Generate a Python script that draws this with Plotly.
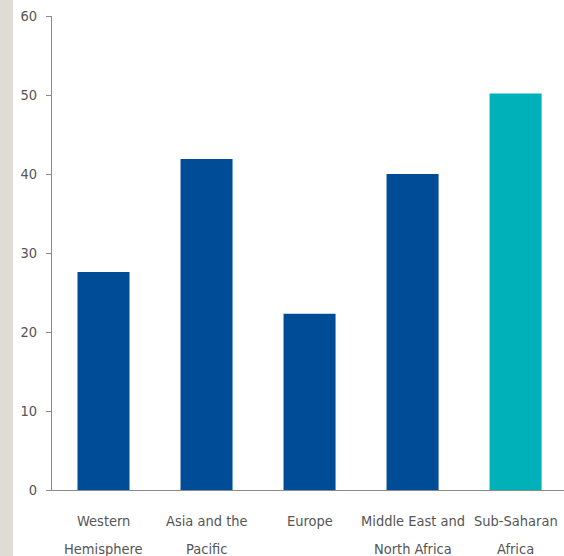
import plotly.graph_objects as go

categories = ["Western Hemisphere", "Asia and the Pacific", "Europe",
              "Middle East and North Africa", "Sub-Saharan Africa"]
label_line1 = ["Western", "Asia and the", "Europe", "Middle East and", "Sub-Saharan"]
label_line2 = ["Hemisphere", "Pacific", "", "North Africa", "Africa"]
values = [27.6, 41.9, 22.3, 40.0, 50.2]
colors = ["#004c97", "#004c97", "#004c97", "#004c97", "#00b1b9"]
y_ticks = [0, 10, 20, 30, 40, 50, 60]

W, H = 564, 556
L, R, T, B = 52, 0, 16, 66
PW, PH = W - L - R, H - T - B

fig = go.Figure(go.Bar(x=categories, y=values, marker=dict(color=colors, line=dict(width=0)),
                       width=0.505))

font = dict(family="DejaVu Sans Condensed, Liberation Sans Narrow, Roboto, sans-serif",
            size=14.5, color="#555555")

annotations = []
for cat, l1, l2 in zip(categories, label_line1, label_line2):
    for txt, py in ((l1, 521), (l2, 549)):
        if txt:
            annotations.append(dict(x=cat, xref="x", y=(H - B - py) / PH, yref="paper",
                                    text=txt, showarrow=False, xanchor="center",
                                    yanchor="middle", font=font))

fig.update_layout(
    width=W, height=H,
    margin=dict(l=L, r=R, t=T, b=B, pad=0, autoexpand=False),
    paper_bgcolor="white", plot_bgcolor="white",
    showlegend=False,
    font=font,
    xaxis=dict(range=[-0.5, 4.47], showgrid=False, showline=True, linecolor="#8a8a8a",
               linewidth=1, ticks="", showticklabels=False, zeroline=False,
               automargin=False),
    yaxis=dict(range=[0, 60], tickvals=y_ticks, showgrid=False, showline=True,
               linecolor="#8a8a8a", linewidth=1, ticks="outside", ticklen=5,
               tickcolor="#8a8a8a", tickfont=dict(font, size=14.5), zeroline=False,
               ticklabelstandoff=6, automargin=False),
    annotations=annotations,
    shapes=[dict(type="rect", xref="paper", yref="paper", x0=-L / PW, x1=(13 - L) / PW,
                 y0=-B / PH - 0.01, y1=(H - B) / PH + 0.01,
                 fillcolor="#dfdcd5", line=dict(width=0), layer="below")],
)

fig.write_html("out.html")
